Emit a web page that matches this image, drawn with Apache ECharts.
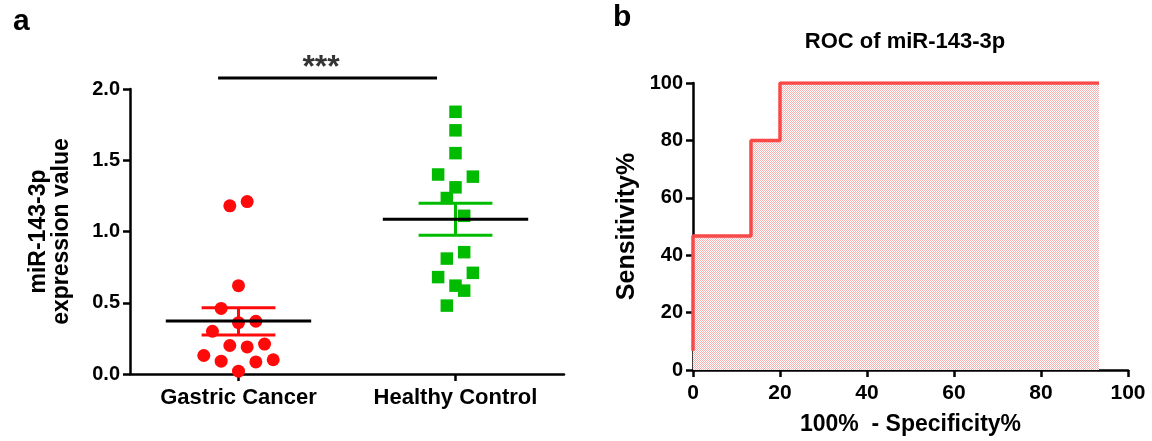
<!DOCTYPE html>
<html>
<head>
<meta charset="utf-8">
<script src="https://cdn.jsdelivr.net/npm/echarts@6/dist/echarts.min.js"></script>
<style>
html,body{margin:0;padding:0;background:#fff;}
#chart{width:1152px;height:441px;}
</style>
</head>
<body>
<div id="chart"></div>
<script>
// ---------- Panel a data ----------
const categories = ['Gastric Cancer', 'Healthy Control'];
const categoryCenters = [0.5, 1.5];
const gastricValues = [1.18, 1.21, 0.62, 0.46, 0.36, 0.37, 0.30, 0.20, 0.19, 0.21, 0.13, 0.09, 0.085, 0.10, 0.02];
const gastricJitter = [-0.04, 0.04, 0, -0.08, 0, 0.08, -0.12, -0.04, 0.04, 0.12, -0.16, -0.08, 0.08, 0.16, 0];
const healthyValues = [1.84, 1.71, 1.55, 1.40, 1.385, 1.31, 1.235, 1.11, 0.855, 0.81, 0.71, 0.68, 0.62, 0.585, 0.48];
const healthyJitter = [0, 0, 0, -0.08, 0.08, 0, -0.04, 0.04, 0.04, -0.04, 0.08, -0.08, 0, 0.04, -0.04];
const groupMeans = [0.372, 1.086];
const groupSemLow = [0.274, 0.973];
const groupSemHigh = [0.465, 1.198];
const sigBracket = [0.406, 1.415, 2.077];
const sigLabel = '***';

// ---------- Panel b data ----------
const rocFpr = [0, 0, 13.33, 13.33, 20, 20, 93.33];
const rocSens = [6.67, 46.67, 46.67, 80, 80, 100, 100];
const rocStats = ['P < 0.001', 'AUC: 0.9156', 'CI: 0.8109 to 1.020'];

// ---------- styles ----------
const FONT = "'Liberation Sans', Arial, sans-serif";
const RED = '#ff0a0a';
const GREEN = '#00bb00';
const ROC_RED = '#f84848';

const pat = document.createElement('canvas');
pat.width = 2; pat.height = 2;
const pctx = pat.getContext('2d');
pctx.fillStyle = '#ffffff'; pctx.fillRect(0, 0, 2, 2);
pctx.fillStyle = '#f7b2b2'; pctx.fillRect(0, 0, 1, 1); pctx.fillRect(1, 1, 1, 1);

const axisLineStyle = { color: '#000', width: 2.5 };
const tickStyle = { show: true, inside: false, length: 7, lineStyle: { color: '#000', width: 2.5 } };
const labelFont = { color: '#000', fontFamily: FONT, fontWeight: 'bold', fontSize: 20 };

const gastricData = gastricValues.map((v, i) => [categoryCenters[0] + gastricJitter[i], v]);
const healthyData = healthyValues.map((v, i) => [categoryCenters[1] + healthyJitter[i], v]);
const summaryData = categoryCenters.map((c, i) => [c, groupMeans[i], groupSemLow[i], groupSemHigh[i], i]);
const summaryColors = [RED, GREEN];
const MEAN_HALF = 0.335, SEM_HALF = 0.17;

const chart = echarts.init(document.getElementById('chart'), null, { renderer: 'canvas' });

chart.setOption({
  animation: false,
  backgroundColor: '#fff',
  title: [
    { text: 'a', left: 8, top: 2, textStyle: { fontFamily: FONT, fontWeight: 'bold', fontSize: 30, color: '#000' } },
    { text: 'b', left: 608, top: -2, textStyle: { fontFamily: FONT, fontWeight: 'bold', fontSize: 30, color: '#000' } },
    { text: 'ROC of miR-143-3p', left: 900, textAlign: 'center', top: 26, textStyle: { fontFamily: FONT, fontWeight: 'bold', fontSize: 22, color: '#000' } }
  ],
  grid: [
    { left: 130, top: 89, width: 434, height: 285 },
    { left: 693, top: 83, width: 435, height: 287 }
  ],
  xAxis: [
    {
      gridIndex: 0, type: 'value', min: 0, max: 2,
      axisLine: { show: true, lineStyle: axisLineStyle },
      axisTick: Object.assign({}, tickStyle, { customValues: categoryCenters }),
      axisLabel: Object.assign({}, labelFont, { fontSize: 22, customValues: categoryCenters, margin: 13,
        formatter: v => categories[categoryCenters.indexOf(v)] || '' }),
      splitLine: { show: false }
    },
    {
      gridIndex: 1, type: 'value', min: 0, max: 100, interval: 20,
      name: '100%  - Specificity%', nameLocation: 'middle', nameGap: 43,
      nameTextStyle: { fontFamily: FONT, fontWeight: 'bold', fontSize: 23, color: '#000' },
      axisLine: { show: true, onZero: false, lineStyle: axisLineStyle },
      axisTick: tickStyle,
      axisLabel: Object.assign({}, labelFont, { fontSize: 21, margin: 13 }),
      splitLine: { show: false }
    }
  ],
  yAxis: [
    {
      gridIndex: 0, type: 'value', min: 0, max: 2, interval: 0.5,
      name: 'miR-143-3p\nexpression value', nameLocation: 'middle', nameGap: 57,
      nameTextStyle: { fontFamily: FONT, fontWeight: 'bold', fontSize: 23, lineHeight: 23, color: '#000' },
      axisLine: { show: true, lineStyle: axisLineStyle },
      axisTick: tickStyle,
      axisLabel: Object.assign({}, labelFont, { margin: 10, formatter: v => v.toFixed(1) }),
      splitLine: { show: false }
    },
    {
      gridIndex: 1, type: 'value', min: 0, max: 100, interval: 20,
      name: 'Sensitivity%', nameLocation: 'middle', nameGap: 53,
      nameTextStyle: { fontFamily: FONT, fontWeight: 'bold', fontSize: 25, color: '#000' },
      axisLine: { show: true, onZero: false, lineStyle: axisLineStyle },
      axisTick: tickStyle,
      axisLabel: Object.assign({}, labelFont, { margin: 10 }),
      splitLine: { show: false }
    }
  ],
  series: [
    {
      name: categories[0], type: 'scatter', xAxisIndex: 0, yAxisIndex: 0,
      data: gastricData, symbol: 'circle', symbolSize: 13,
      itemStyle: { color: RED, opacity: 1 }, z: 2
    },
    {
      name: categories[1], type: 'scatter', xAxisIndex: 0, yAxisIndex: 0,
      data: healthyData, symbol: 'rect', symbolSize: 12.5,
      itemStyle: { color: GREEN, opacity: 1 }, z: 2
    },
    {
      type: 'custom', xAxisIndex: 0, yAxisIndex: 0, z: 5,
      data: summaryData,
      renderItem: function (params, api) {
        const c = api.value(0), m = api.value(1), lo = api.value(2), hi = api.value(3);
        const col = summaryColors[api.value(4)];
        const p = (x, y) => api.coord([x, y]);
        const seg = (a, b, color, w) => ({ type: 'line', shape: { x1: a[0], y1: a[1], x2: b[0], y2: b[1] }, style: { stroke: color, lineWidth: w } });
        return { type: 'group', children: [
          seg(p(c, lo), p(c, hi), col, 3),
          seg(p(c - SEM_HALF, hi), p(c + SEM_HALF, hi), col, 3),
          seg(p(c - SEM_HALF, lo), p(c + SEM_HALF, lo), col, 3),
          seg(p(c - MEAN_HALF, m), p(c + MEAN_HALF, m), '#000', 3)
        ] };
      }
    },
    {
      type: 'line', xAxisIndex: 0, yAxisIndex: 0, clip: false, symbol: 'none',
      data: [[sigBracket[0], sigBracket[2]], [sigBracket[1], sigBracket[2]]],
      lineStyle: { color: '#000', width: 3 }, z: 5
    },
    {
      type: 'scatter', xAxisIndex: 0, yAxisIndex: 0, clip: false, symbolSize: 0,
      data: [[(sigBracket[0] + sigBracket[1]) / 2 - 0.03, sigBracket[2]]],
      label: { show: true, position: 'top', distance: -6, formatter: sigLabel, fontFamily: FONT, fontWeight: 'bold', fontSize: 32, color: '#000' }
    },
    {
      type: 'line', xAxisIndex: 1, yAxisIndex: 1, symbol: 'none',
      data: rocFpr.map((x, i) => [x, rocSens[i]]),
      lineStyle: { color: ROC_RED, width: 3.5 },
      areaStyle: { color: { image: pat, repeat: 'repeat' }, opacity: 1, origin: 'start' },
      z: 3
    }
  ],
  graphic: [
    {
      type: 'group', left: 850, top: 191,
      children: rocStats.map((t, i) => ({
        type: 'text', x: 0, y: i * 22.5,
        style: {
          text: i === 0 ? '{i|P}{n| < 0.001}' : t,
          rich: { i: { fontStyle: 'italic', fontWeight: 'bold', fontSize: 18, fontFamily: FONT, fill: '#000' },
                  n: { fontWeight: 'bold', fontSize: 18, fontFamily: FONT, fill: '#000' } },
          font: "bold 18px 'Liberation Sans', Arial, sans-serif", fill: '#000'
        }
      }))
    }
  ]
});
</script>
</body>
</html>
